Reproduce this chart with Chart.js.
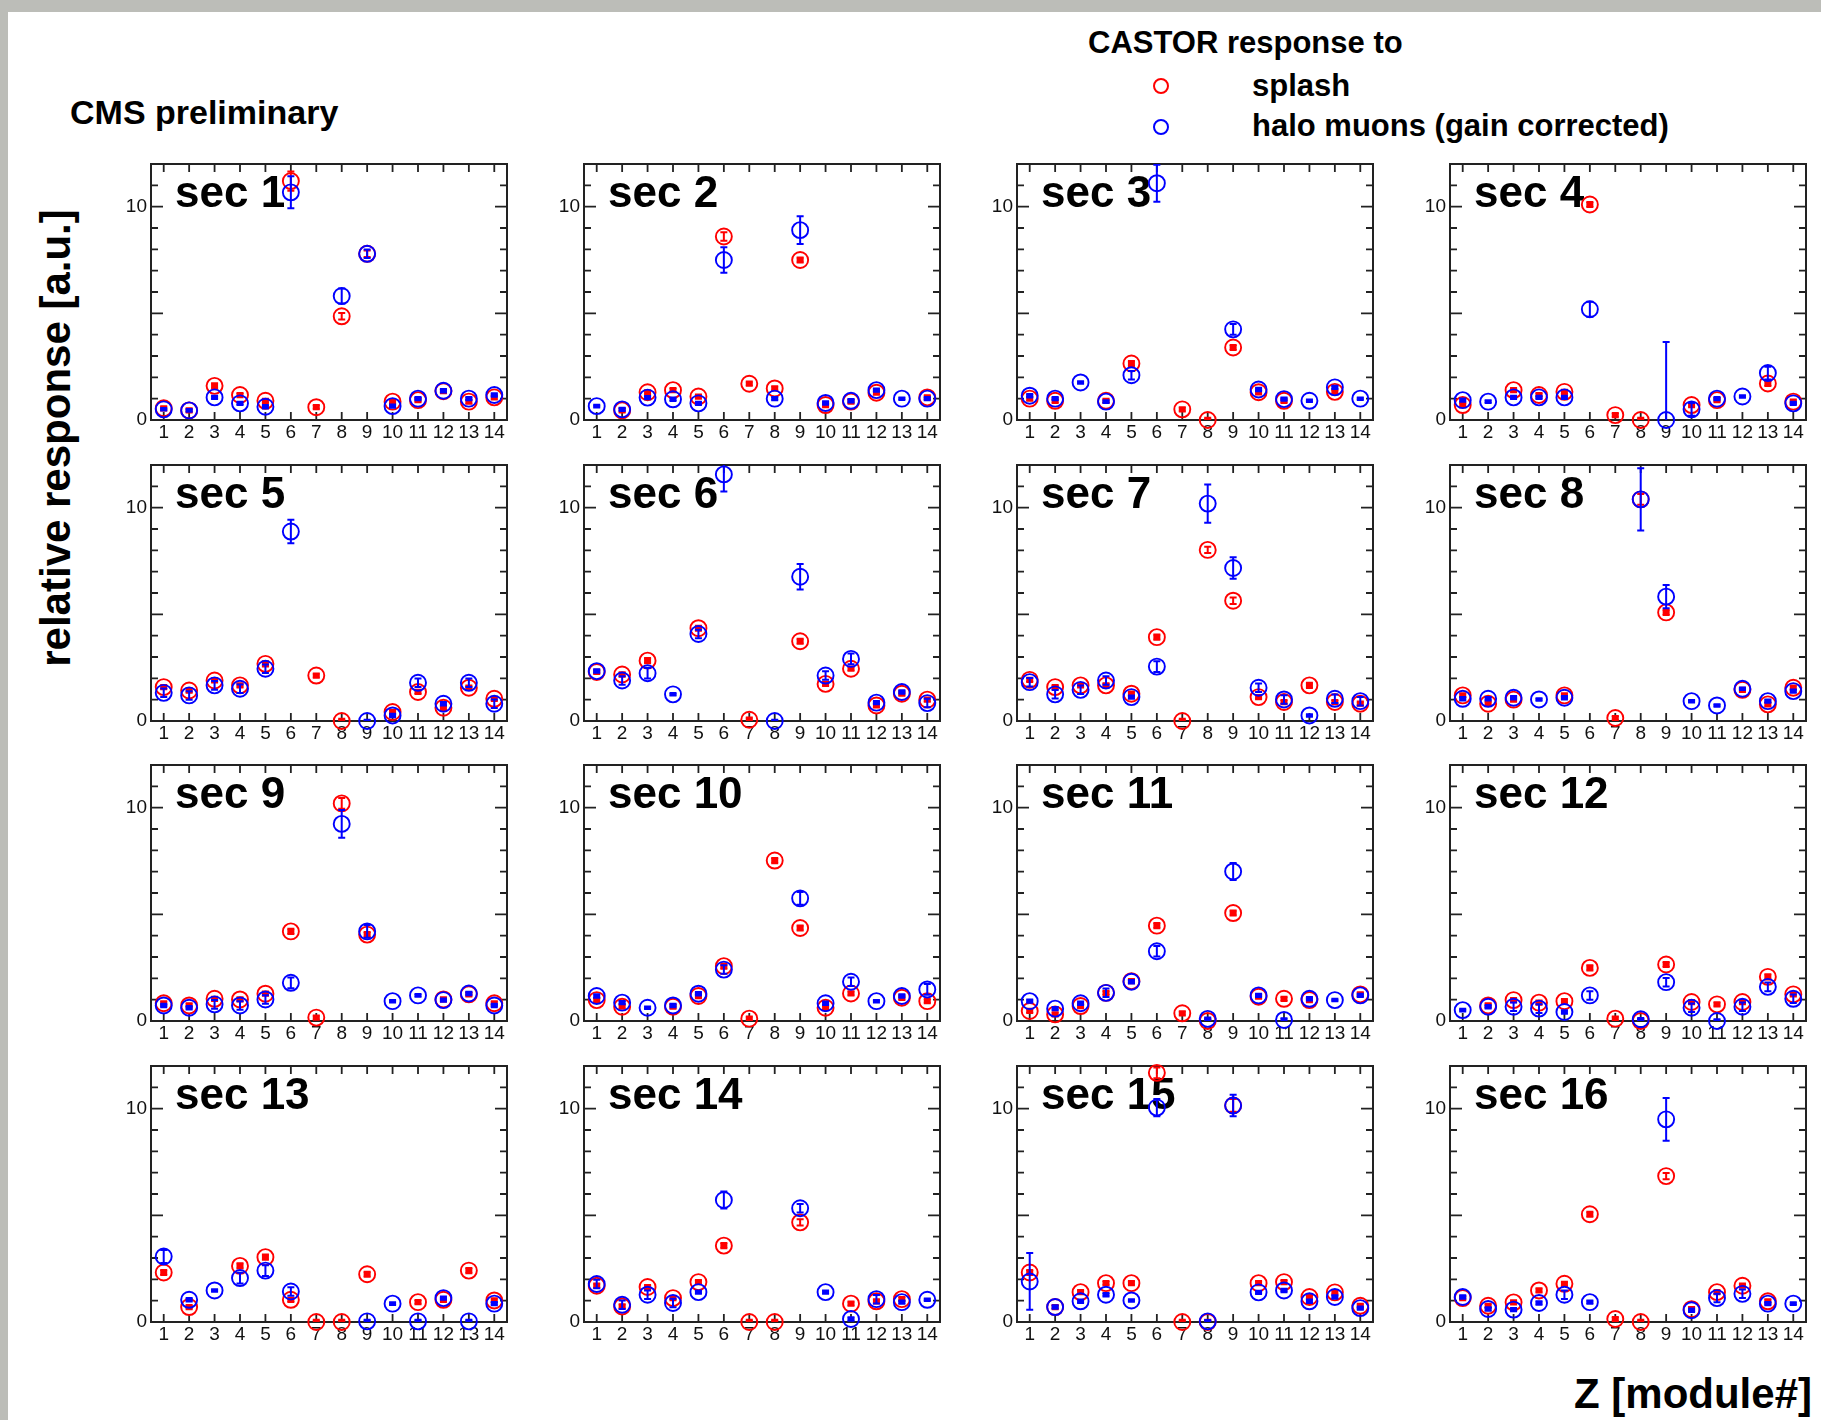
<!DOCTYPE html>
<html>
<head>
<meta charset="utf-8">
<script src="https://cdn.jsdelivr.net/npm/chart.js@4.4.1/dist/chart.umd.min.js"></script>
<style>
  body { margin: 0; width: 1821px; height: 1420px; position: relative; overflow: hidden; background: #fff;
         font-family: "Liberation Sans", Arial, sans-serif; }
  .band-top { position: absolute; left: 0; top: 0; width: 1821px; height: 12px; background: #bcbdb8; }
  .band-left { position: absolute; left: 0; top: 0; width: 8px; height: 1420px; background: #bcbdb8; }
  .txt { position: absolute; font-weight: bold; line-height: 1; white-space: nowrap; color: #000; }
  .mk { position: absolute; width: 16px; height: 16px; border-radius: 50%; border: 2px solid; box-sizing: border-box; }
  canvas { position: absolute; }
</style>
</head>
<body>
<div class="band-top"></div>
<div class="band-left"></div>

<div class="txt" style="font-size:34px; left:70px; top:95px;">CMS preliminary</div>
<div class="txt" style="font-size:31px; left:1088px; top:27px;">CASTOR response to</div>
<div class="mk" style="left:1153px; top:78px; border-color:#ff0000;"></div>
<div class="txt" style="font-size:31px; left:1252px; top:70px;">splash</div>
<div class="mk" style="left:1153px; top:119px; border-color:#0000ff;"></div>
<div class="txt" style="font-size:31px; left:1252px; top:110px;">halo muons (gain corrected)</div>
<div class="txt" style="font-size:42px; left:56px; top:438px; transform: translate(-50%,-50%) rotate(-90deg);">relative response [a.u.]</div>
<div class="txt" style="font-size:42px; right:9px; top:1373px;">Z [module#]</div>

<script>
const modules = ['1','2','3','4','5','6','7','8','9','10','11','12','13','14'];
const sectors = ['sec 1','sec 2','sec 3','sec 4','sec 5','sec 6','sec 7','sec 8',
                 'sec 9','sec 10','sec 11','sec 12','sec 13','sec 14','sec 15','sec 16'];

// splash response per sector (null = no point)
const splash1  = [0.55,0.45,1.6,1.17,0.9,11.2,0.6,4.86,7.79,0.86,0.93,1.35,0.86,1.06];
const splash2  = [null,0.45,1.3,1.4,1.1,8.6,1.7,1.48,7.5,0.7,0.86,1.28,null,1.06];
const splash3  = [1.0,0.9,null,0.9,2.65,null,0.5,0.0,3.4,1.3,0.9,null,1.32,null];
const splash4  = [0.7,null,1.4,1.17,1.32,10.1,0.23,0.0,null,0.7,0.93,null,1.71,0.86];
const splash5  = [1.59,1.43,1.9,1.67,2.68,null,2.13,0.0,null,0.42,1.36,0.62,1.56,1.04];
const splash6  = [2.3,2.18,2.83,null,4.35,null,0.06,null,3.74,1.74,2.45,0.73,1.28,1.0];
const splash7  = [1.93,1.59,1.67,1.67,1.28,3.93,0.0,8.02,5.64,1.12,0.89,1.67,0.89,0.81];
const splash8  = [1.2,0.81,1.0,null,1.2,null,0.14,10.39,5.09,null,null,1.46,0.78,1.56];
const splash9  = [0.83,0.73,1.04,1.01,1.28,4.2,0.16,10.2,4.05,null,null,1.01,1.25,0.83];
const splash10 = [0.98,0.67,null,0.67,1.17,2.57,0.11,7.52,4.36,0.62,1.29,null,1.09,0.93];
const splash11 = [0.47,0.31,0.7,1.32,1.87,4.47,0.36,0.0,5.06,1.14,1.04,0.98,null,1.25];
const splash12 = [null,0.73,0.98,0.86,0.93,2.49,0.11,0.0,2.65,0.89,0.78,0.89,2.07,1.25];
const splash13 = [2.32,0.7,null,2.63,3.04,1.04,0.0,0.0,2.24,null,0.93,1.04,2.41,1.01];
const splash14 = [1.7,0.73,1.64,1.12,1.87,3.58,0.0,0.0,4.67,null,0.86,0.97,1.07,null];
const splash15 = [2.32,0.7,1.4,1.82,1.82,11.68,0.0,0.0,10.15,1.82,1.87,1.17,1.39,0.76];
const splash16 = [1.12,0.76,0.92,1.48,1.79,5.05,0.14,0.0,6.84,0.6,1.4,1.7,0.97,null];

// halo muon response per sector
const halo1  = [0.5,0.45,1.06,0.78,0.62,10.67,null,5.81,7.79,0.65,1.0,1.37,1.0,1.17];
const halo2  = [0.65,0.5,1.05,0.97,0.78,7.5,null,1.0,8.9,0.8,0.9,1.4,1.0,1.0];
const halo3  = [1.14,1.0,1.76,0.86,2.1,11.1,null,null,4.25,1.43,0.98,0.9,1.53,1.0];
const halo4  = [0.93,0.86,1.06,1.06,1.06,5.19,null,null,0.0,0.5,1.0,1.1,2.2,0.78];
const halo5  = [1.32,1.2,1.67,1.51,2.45,8.88,null,null,0.0,0.26,1.79,0.81,1.79,0.81];
const halo6  = [2.34,1.9,2.24,1.25,4.08,11.56,null,0.0,6.76,2.13,2.91,0.86,1.36,0.84];
const halo7  = [1.82,1.25,1.46,1.9,1.12,2.55,null,10.19,7.17,1.56,1.01,0.26,1.04,0.93];
const halo8  = [1.04,1.04,1.09,1.01,1.09,null,null,10.39,5.83,0.93,0.73,1.51,0.93,1.4];
const halo9  = [0.73,0.62,0.78,0.73,1.01,1.79,null,9.24,4.2,0.93,1.2,0.98,1.29,0.73];
const halo10 = [1.17,0.86,0.62,0.73,1.28,2.41,null,null,5.75,0.83,1.84,0.93,1.17,1.48];
const halo11 = [0.93,0.58,0.83,1.32,1.84,3.27,null,0.1,7.01,1.2,0.05,1.04,0.98,1.2];
const halo12 = [0.51,0.67,0.67,0.58,0.42,1.2,null,0.08,1.82,0.62,0.0,0.67,1.6,1.04];
const halo13 = [3.07,1.04,1.48,2.06,2.41,1.43,null,null,0.03,0.86,0.03,1.12,0.03,0.86];
const halo14 = [1.78,0.81,1.28,0.89,1.4,5.72,null,null,5.33,1.4,0.14,1.07,0.93,1.04];
const halo15 = [1.9,0.7,0.97,1.28,1.01,10.05,null,0.03,10.15,1.39,1.48,0.97,1.17,0.65];
const halo16 = [1.17,0.61,0.58,0.89,1.28,0.93,null,null,9.5,0.55,1.12,1.32,0.86,0.86];

// error bars
const splashErr1  = [0.1,0.1,0.12,0.1,0.1,0.45,0.1,0.15,0.15,0.1,0.1,0.1,0.1,0.1];
const splashErr2  = [0.1,0.1,0.1,0.1,0.1,0.2,0.1,0.1,0.12,0.1,0.1,0.1,0.1,0.1];
const splashErr3  = [0.1,0.1,0.1,0.1,0.12,0.1,0.1,0.1,0.12,0.1,0.1,0.1,0.1,0.1];
const splashErr4  = [0.1,0.1,0.1,0.1,0.1,0.12,0.1,0.1,0.1,0.1,0.1,0.1,0.12,0.1];
const splashErr5  = [0.1,0.1,0.1,0.1,0.12,0.1,0.1,0.1,0.1,0.1,0.1,0.1,0.1,0.1];
const splashErr6  = [0.1,0.1,0.12,0.1,0.12,0.1,0.1,0.1,0.12,0.1,0.1,0.1,0.1,0.1];
const splashErr7  = [0.1,0.1,0.1,0.1,0.1,0.12,0.1,0.15,0.15,0.1,0.1,0.12,0.1,0.1];
const splashErr8  = [0.1,0.1,0.1,0.1,0.1,0.1,0.1,0.25,0.12,0.1,0.1,0.1,0.1,0.1];
const splashErr9  = [0.1,0.1,0.1,0.1,0.1,0.12,0.1,0.25,0.12,0.1,0.1,0.1,0.1,0.1];
const splashErr10 = [0.1,0.1,0.1,0.1,0.1,0.12,0.1,0.12,0.12,0.1,0.1,0.1,0.1,0.1];
const splashErr11 = [0.1,0.1,0.1,0.1,0.1,0.12,0.1,0.1,0.12,0.1,0.1,0.1,0.1,0.1];
const splashErr12 = [0.1,0.1,0.1,0.1,0.1,0.12,0.1,0.1,0.12,0.1,0.1,0.1,0.12,0.1];
const splashErr13 = [0.12,0.1,0.1,0.12,0.12,0.1,0.1,0.1,0.12,0.1,0.1,0.1,0.12,0.1];
const splashErr14 = [0.1,0.1,0.1,0.1,0.1,0.12,0.1,0.1,0.15,0.1,0.1,0.1,0.1,0.1];
const splashErr15 = [0.12,0.1,0.1,0.1,0.1,0.25,0.1,0.1,0.3,0.1,0.1,0.1,0.1,0.1];
const splashErr16 = [0.1,0.1,0.1,0.1,0.1,0.12,0.1,0.1,0.15,0.1,0.1,0.1,0.1,0.1];

const haloErr1  = [0.06,0.06,0.08,0.08,0.08,0.75,0,0.35,0.2,0.08,0.08,0.08,0.08,0.08];
const haloErr2  = [0.06,0.08,0.08,0.08,0.08,0.6,0,0.08,0.65,0.08,0.08,0.08,0.06,0.08];
const haloErr3  = [0.08,0.08,0.06,0.06,0.2,0.87,0,0,0.25,0.08,0.08,0.06,0.08,0.06];
const haloErr4  = [0.08,0.06,0.08,0.08,0.08,0.35,0,0,3.66,0.3,0.08,0.06,0.3,0.08];
const haloErr5  = [0.2,0.2,0.2,0.2,0.2,0.55,0,0,0.06,0.08,0.2,0.08,0.2,0.2];
const haloErr6  = [0.08,0.2,0.25,0.06,0.2,0.8,0,0.06,0.6,0.2,0.25,0.08,0.08,0.2];
const haloErr7  = [0.2,0.2,0.2,0.2,0.08,0.25,0,0.9,0.5,0.2,0.2,0.06,0.2,0.2];
const haloErr8  = [0.08,0.08,0.08,0.06,0.08,0,0,1.46,0.55,0.06,0.06,0.06,0.08,0.08];
const haloErr9  = [0.08,0.08,0.2,0.2,0.2,0.25,0,0.65,0.3,0.06,0.06,0.08,0.08,0.08];
const haloErr10 = [0.08,0.08,0.06,0.08,0.08,0.2,0,0,0.3,0.08,0.2,0.06,0.08,0.25];
const haloErr11 = [0.08,0.08,0.08,0.2,0.08,0.25,0,0.06,0.4,0.08,0.08,0.08,0.06,0.08];
const haloErr12 = [0.06,0.08,0.2,0.2,0.08,0.2,0,0.06,0.2,0.2,0.08,0.2,0.2,0.2];
const haloErr13 = [0.3,0.08,0.06,0.25,0.25,0.2,0,0,0.08,0.06,0.08,0.08,0.08,0.08];
const haloErr14 = [0.2,0.2,0.2,0.2,0.08,0.4,0,0,0.2,0.08,0.08,0.2,0.08,0.06];
const haloErr15 = [1.33,0.08,0.08,0.08,0.06,0.4,0,0.06,0.5,0.08,0.08,0.08,0.08,0.08];
const haloErr16 = [0.08,0.08,0.08,0.08,0.2,0.08,0,0,1.0,0.08,0.2,0.2,0.08,0.06];

const yTicks = [0, 5, 10];

const splashAll = [splash1,splash2,splash3,splash4,splash5,splash6,splash7,splash8,
                   splash9,splash10,splash11,splash12,splash13,splash14,splash15,splash16];
const haloAll = [halo1,halo2,halo3,halo4,halo5,halo6,halo7,halo8,
                 halo9,halo10,halo11,halo12,halo13,halo14,halo15,halo16];
const splashErrAll = [splashErr1,splashErr2,splashErr3,splashErr4,splashErr5,splashErr6,splashErr7,splashErr8,
                      splashErr9,splashErr10,splashErr11,splashErr12,splashErr13,splashErr14,splashErr15,splashErr16];
const haloErrAll = [haloErr1,haloErr2,haloErr3,haloErr4,haloErr5,haloErr6,haloErr7,haloErr8,
                    haloErr9,haloErr10,haloErr11,haloErr12,haloErr13,haloErr14,haloErr15,haloErr16];

const RED = '#ff0000';
const BLUE = '#0000ff';
const panelLeft = [151, 584, 1017, 1450];
const panelTop = [164, 465, 765, 1066];
const frameW = 356, frameH = 256;
const padTop = 16;
const tickFont = '"Liberation Sans", Arial, sans-serif';

Chart.defaults.font.family = tickFont;

// ROOT-like frame, inner ticks, sector label and error bars
const rootFrame = {
    id: 'rootFrame',
    beforeDatasetsDraw(chart, args, opts) {
        const { ctx, chartArea: a, scales: { x, y } } = chart;
        ctx.save();
        ctx.strokeStyle = '#222';
        ctx.lineWidth = 2;
        ctx.strokeRect(a.left, a.top, a.right - a.left, a.bottom - a.top);
        ctx.lineWidth = 1.8;
        ctx.beginPath();
        for (let v = 1; v < 12; v++) {
            const py = y.getPixelForValue(v);
            const len = yTicks.includes(v) ? 12 : 7;
            ctx.moveTo(a.left, py); ctx.lineTo(a.left + len, py);
            ctx.moveTo(a.right, py); ctx.lineTo(a.right - len, py);
        }
        modules.forEach((m, i) => {
            const px = x.getPixelForValue(i);
            ctx.moveTo(px, a.top); ctx.lineTo(px, a.top + 8);
            ctx.moveTo(px, a.bottom); ctx.lineTo(px, a.bottom - 8);
        });
        ctx.stroke();
        ctx.fillStyle = '#000';
        ctx.font = 'bold 44px "Liberation Sans", Arial, sans-serif';
        ctx.fillText(opts.text, a.left + 24, a.top + 43);
        ctx.restore();
    },
    afterDatasetDraw(chart, args) {
        const ds = chart.data.datasets[args.index];
        const { ctx, chartArea: a, scales: { x, y } } = chart;
        ctx.save();
        ctx.beginPath();
        ctx.rect(a.left, a.top, a.right - a.left, a.bottom - a.top);
        ctx.clip();
        ctx.strokeStyle = ds.borderColor;
        ctx.fillStyle = ds.borderColor;
        ctx.lineWidth = 2;
        ctx.beginPath();
        ds.data.forEach((v, i) => {
            if (v === null) return;
            const e = ds.errors[i];
            const px = x.getPixelForValue(i);
            const hi = y.getPixelForValue(v + e);
            const lo = y.getPixelForValue(v - e);
            ctx.moveTo(px, hi); ctx.lineTo(px, lo);
            ctx.moveTo(px - 3.5, hi); ctx.lineTo(px + 3.5, hi);
            ctx.moveTo(px - 3.5, lo); ctx.lineTo(px + 3.5, lo);
            if (lo - hi < 6) ctx.fillRect(px - 3.5, hi, 7, lo - hi);
        });
        ctx.stroke();
        ctx.restore();
    }
};

function crearPanel(idx) {
    const row = Math.floor(idx / 4), col = idx % 4;
    const canvas = document.createElement('canvas');
    canvas.width = frameW + 50;
    canvas.height = frameH + padTop + 30;
    canvas.style.left = (panelLeft[col] - 40) + 'px';
    canvas.style.top = (panelTop[row] - padTop) + 'px';
    document.body.appendChild(canvas);

    const puntos = (color) => ({
        showLine: false,
        borderColor: color,
        pointBorderColor: color,
        pointBackgroundColor: 'rgba(0,0,0,0)',
        pointRadius: 8,
        pointHoverRadius: 8,
        pointBorderWidth: 1.9,
        clip: 16
    });

    new Chart(canvas, {
        type: 'line',
        data: {
            labels: modules,
            datasets: [
                Object.assign({ label: 'halo muons', data: haloAll[idx], errors: haloErrAll[idx], order: 0 }, puntos(BLUE)),
                Object.assign({ label: 'splash', data: splashAll[idx], errors: splashErrAll[idx], order: 1 }, puntos(RED))
            ]
        },
        options: {
            responsive: false,
            animation: false,
            events: [],
            layout: { padding: { top: padTop, right: 10, left: 0, bottom: 0 } },
            plugins: {
                legend: { display: false },
                tooltip: { enabled: false },
                rootFrame: { text: sectors[idx] }
            },
            scales: {
                x: {
                    type: 'category',
                    offset: true,
                    grid: { display: false, drawTicks: false },
                    border: { display: false },
                    ticks: { autoSkip: false, maxRotation: 0, padding: 1, color: '#111',
                             font: { family: tickFont, size: 19 } },
                    afterFit: (s) => { s.height = 30; }
                },
                y: {
                    min: 0,
                    max: 12,
                    grid: { display: false, drawTicks: false },
                    border: { display: false },
                    ticks: {
                        stepSize: 1,
                        padding: 4,
                        color: '#111',
                        font: { family: tickFont, size: 19 },
                        callback: (v) => yTicks.includes(v) ? String(v) : ''
                    },
                    afterFit: (s) => { s.width = 40; }
                }
            }
        },
        plugins: [rootFrame]
    });
}

sectors.forEach((s, i) => crearPanel(i));
</script>
</body>
</html>
